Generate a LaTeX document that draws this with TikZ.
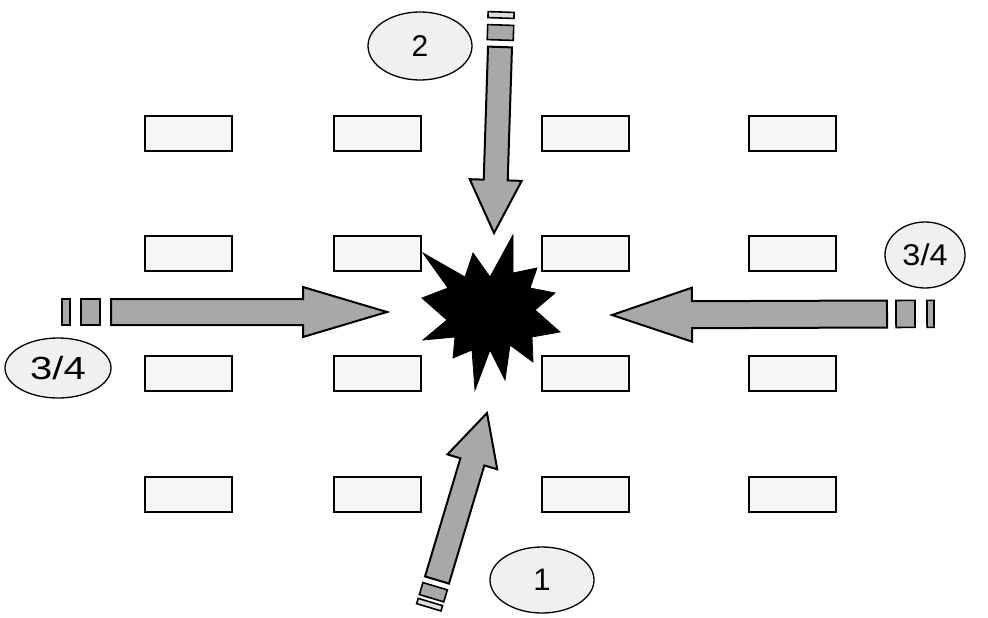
\documentclass[tikz,border=0pt]{standalone}
\usepackage{fontspec}
\setmainfont{Liberation Sans}
\usetikzlibrary{shapes.geometric,calc}
\tikzset{
 seat/.style={draw=black, line width=2pt, fill=gray!7, minimum width=87pt, minimum height=35pt, inner sep=0pt, anchor=north west},
 bubble/.style={ellipse, draw=black, line width=1.3pt, fill=gray!12, inner sep=0pt},
 arrowbody/.style={draw=black, line width=2pt, fill=gray!68, line join=miter},
 taildark/.style={draw=black, line width=1.6pt, fill=gray!68},
 taillight/.style={draw=black, line width=1.6pt, fill=gray!25},
 burst/.style={fill=black, draw=black, line width=0.8pt, line join=miter}
}
\newcommand\myblockarrow[5]{%
 \coordinate (hb) at ($(#2)!#5!(#1)$);
 \draw[arrowbody] ($(#1)!#3!90:(#2)$) -- ($(hb)!#3!90:(#2)$) -- ($(hb)!#4!90:(#2)$) -- (#2) -- ($(hb)!#4!-90:(#2)$) -- ($(hb)!#3!-90:(#2)$) -- ($(#1)!#3!-90:(#2)$) -- cycle;
}
\newcommand\mytail[6]{%
 \coordinate (ta) at ($(#1)!-#3!(#2)$);
 \coordinate (tb) at ($(#1)!-#4!(#2)$);
 \draw[#6] ($(ta)!#5!90:(#2)$) -- ($(tb)!#5!90:(#2)$) -- ($(tb)!#5!-90:(#2)$) -- ($(ta)!#5!-90:(#2)$) -- cycle;
}
\begin{document}
\begin{tikzpicture}[x=1pt,y=-1pt]
\useasboundingbox (0,0) rectangle (988,618);
\fill[white] (0,0) rectangle (988,618);
% grid of rectangles
\foreach \c/\x in {1/144,2/333,3/541,4/748}{
  \foreach \r/\y in {1/115,2/235,3/355,4/476}{
    \node[seat] (r\r\c) at (\x,\y) {};
  }
}
% burst
\draw[burst] (423,253) -- (465,277) -- (473,253) -- (490,277) -- (513,235) -- (513,273) -- (537,268) -- (530,288) -- (555,293) -- (535,310) -- (560,332) -- (532,337) -- (533,362) -- (510,345) -- (505,380) -- (490,350) -- (475,390) -- (472,350) -- (453,358) -- (455,337) -- (423,340) -- (447,320) -- (422,298) -- (448,288) -- cycle;
% arrow end points
\coordinate (Lb) at (111,312); \coordinate (Lt) at (387,312);
\coordinate (Rb) at (887,314); \coordinate (Rt) at (612,315);
\coordinate (Tb) at (500,47);  \coordinate (Tt) at (494,233);
\coordinate (Bb) at (437,580); \coordinate (Bt) at (487,413);
% left arrow
\myblockarrow{Lb}{Lt}{13pt}{25pt}{84pt}
\mytail{Lb}{Lt}{11pt}{30pt}{13pt}{taildark}
\mytail{Lb}{Lt}{41pt}{49pt}{13pt}{taildark}
% right arrow
\myblockarrow{Rb}{Rt}{13.5pt}{27pt}{80pt}
\mytail{Rb}{Rt}{9pt}{28pt}{13.5pt}{taildark}
\mytail{Rb}{Rt}{40pt}{47pt}{13.5pt}{taildark}
% top arrow
\myblockarrow{Tb}{Tt}{12pt}{26pt}{53pt}
\mytail{Tb}{Tt}{7pt}{22pt}{13pt}{taildark}
\mytail{Tb}{Tt}{29pt}{35pt}{13pt}{taillight}
% bottom arrow
\myblockarrow{Bb}{Bt}{12.5pt}{26pt}{51pt}
\mytail{Bb}{Bt}{6.5pt}{19pt}{12.7pt}{taildark}
\mytail{Bb}{Bt}{23pt}{28.5pt}{12.7pt}{taillight}
% labels
\node[bubble, minimum width=104pt, minimum height=68pt] (e2) at (420,46) {\fontsize{30}{30}\selectfont 2};
\node[bubble, minimum width=80pt, minimum height=66pt] (e3r) at (925,255) {\fontsize{30}{30}\selectfont\scalebox{1.08}[1]{3/4}};
\node[bubble, minimum width=106pt, minimum height=60pt] (e3l) at (58,368) {\fontsize{32}{32}\selectfont\scalebox{1.25}[1]{3/4}};
\node[bubble, minimum width=104pt, minimum height=66pt] (e1) at (542,580) {\fontsize{31}{31}\selectfont 1};
\end{tikzpicture}
\end{document}
